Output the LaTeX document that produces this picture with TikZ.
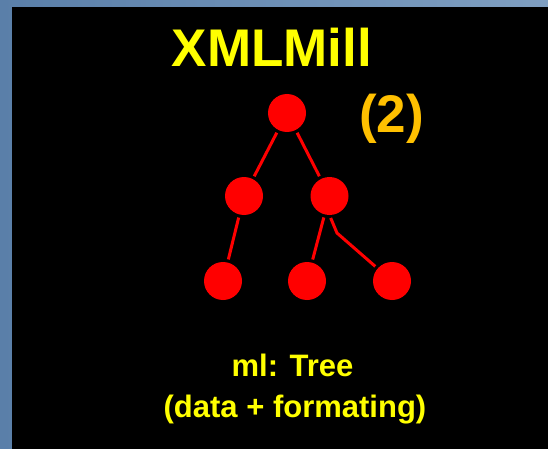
\documentclass[tikz,border=0pt]{standalone}
\usepackage{fontspec}
\setmainfont{Liberation Sans}
\definecolor{frameL}{HTML}{5A7FA9}
\definecolor{frameR}{HTML}{7F9FC1}
\definecolor{titleY}{HTML}{FFFF00}
\definecolor{numO}{HTML}{FFC000}
\definecolor{treeR}{HTML}{FF0000}
\begin{document}
\begin{tikzpicture}[x=1pt,y=-1pt,
  treenode/.style={circle,fill=treeR,minimum size=38pt,inner sep=0pt},
  treeedge/.style={draw=treeR,line width=3pt,shorten >=3pt,shorten <=3pt},
  label/.style={text=titleY,font=\bfseries,inner sep=0pt,anchor=base}]
\useasboundingbox (0,0) rectangle (548,449);
\shade[left color=frameL,right color=frameR] (0,0) rectangle (548,449);
\fill[black] (11.5,7) rectangle (548,449);
\node[label,font=\bfseries\fontsize{53}{60}\selectfont] (title) at (272,67) {XMLMill};
\node[label,text=numO,font=\bfseries\fontsize{53}{60}\selectfont] (num) at (391.5,133) {(2)};
\node[treenode] (r) at (287,113) {};
\node[treenode] (a) at (244,196) {};
\node[treenode] (b) at (329.5,196) {};
\node[treenode] (c) at (223,281) {};
\node[treenode] (d) at (307,281) {};
\node[treenode] (e) at (392,281) {};
\draw[treeedge] (r) -- (a);
\draw[treeedge] (r) -- (b);
\draw[treeedge] (a) -- (c);
\draw[treeedge] (b) -- (d);
\draw[treeedge] (b.south) -- (337,233) -- (e);
\node[label,font=\bfseries\fontsize{31}{36}\selectfont] (l1) at (292.5,376) {ml: Tree};
\node[label,font=\bfseries\fontsize{31}{36}\selectfont] (l2) at (295,417) {(data + formating)};
\end{tikzpicture}
\end{document}
